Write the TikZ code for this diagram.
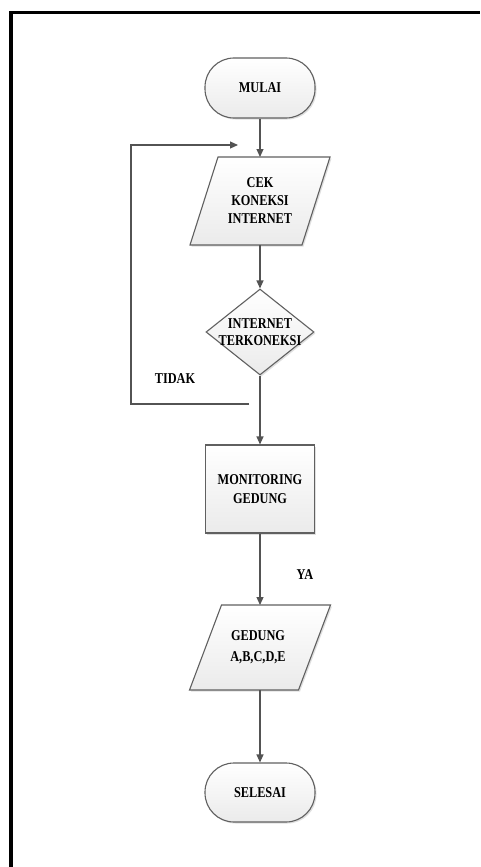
\documentclass[tikz,border=0pt]{standalone}
\usepackage{fontspec}
\setmainfont{Liberation Serif}[FakeStretch=0.82]
\usetikzlibrary{arrows.meta,shapes.geometric,shadows}
\begin{document}
\begin{tikzpicture}[x=1pt,y=-1pt,
  shp/.style={draw=gray!75!black, line width=1.1pt, top color=white, bottom color=gray!16,
    drop shadow={opacity=0.25,shadow xshift=1.5pt,shadow yshift=-1.5pt}},
  lbl/.style={font=\bfseries\fontsize{15}{18}\selectfont, align=center, inner sep=0pt},
  terminal/.style={shp, lbl, rectangle, rounded corners=29pt, minimum width=110pt, minimum height=60pt},
  procbox/.style={shp, lbl, rectangle, minimum width=109pt, minimum height=88pt},
  ghost/.style={rectangle, inner sep=0pt, outer sep=0pt},
  decbox/.style={shp, diamond, minimum width=108pt, minimum height=86pt, inner sep=0pt},
  conn/.style={draw=gray!65!black, line width=1.2pt, -{Triangle[length=8pt,width=7pt]}},
]
\useasboundingbox (0,0) rectangle (480,867);
\fill[white] (0,0) rectangle (480,867);
\draw[line width=3.5pt, black] (11,867) -- (11,12.5) -- (480,12.5);

\node[terminal] (start) at (260,88) {MULAI};

\node[ghost, minimum width=112pt, minimum height=88pt] (cek) at (260,201) {};
\path[shp] ([xshift=14pt]cek.north west) -- ([xshift=14pt]cek.north east)
  -- ([xshift=-14pt]cek.south east) -- ([xshift=-14pt]cek.south west) -- cycle;
\node[lbl] (cektxt) at (cek.center) {CEK\\KONEKSI\\INTERNET};

\node[decbox] (dec) at (260,332) {};
\node[lbl, font=\bfseries\fontsize{15}{17}\selectfont] (dectxt) at (dec.center) {INTERNET\\TERKONEKSI};

\node[procbox, font=\bfseries\fontsize{15}{19}\selectfont] (mon) at (260,489) {MONITORING\\GEDUNG};

\node[ghost, minimum width=109pt, minimum height=85pt] (ged) at (260,647.5) {};
\path[shp] ([xshift=16pt]ged.north west) -- ([xshift=16pt]ged.north east)
  -- ([xshift=-16pt]ged.south east) -- ([xshift=-16pt]ged.south west) -- cycle;
\node[lbl, font=\bfseries\fontsize{15}{21}\selectfont] (gedtxt) at (258,647.5) {GEDUNG\\A,B,C,D,E};

\node[terminal, minimum height=59pt] (end) at (260,792.5) {SELESAI};

\node[lbl] (tidak) at (175,379) {TIDAK};
\node[lbl] (ya) at (305,575) {YA};

\draw[conn] (start.south) -- (cek.north);
\draw[conn] (cek.south) -- (dec.north);
\draw[conn] (dec.south) -- (mon.north);
\draw[conn] (mon.south) -- (ged.north);
\draw[conn] (ged.south) -- (end.north);

\coordinate (la) at (249,404);
\coordinate (lb) at (131,404);
\coordinate (lc) at (238,145);
\draw[conn] (la) -- (lb) |- (lc);
\end{tikzpicture}
\end{document}
